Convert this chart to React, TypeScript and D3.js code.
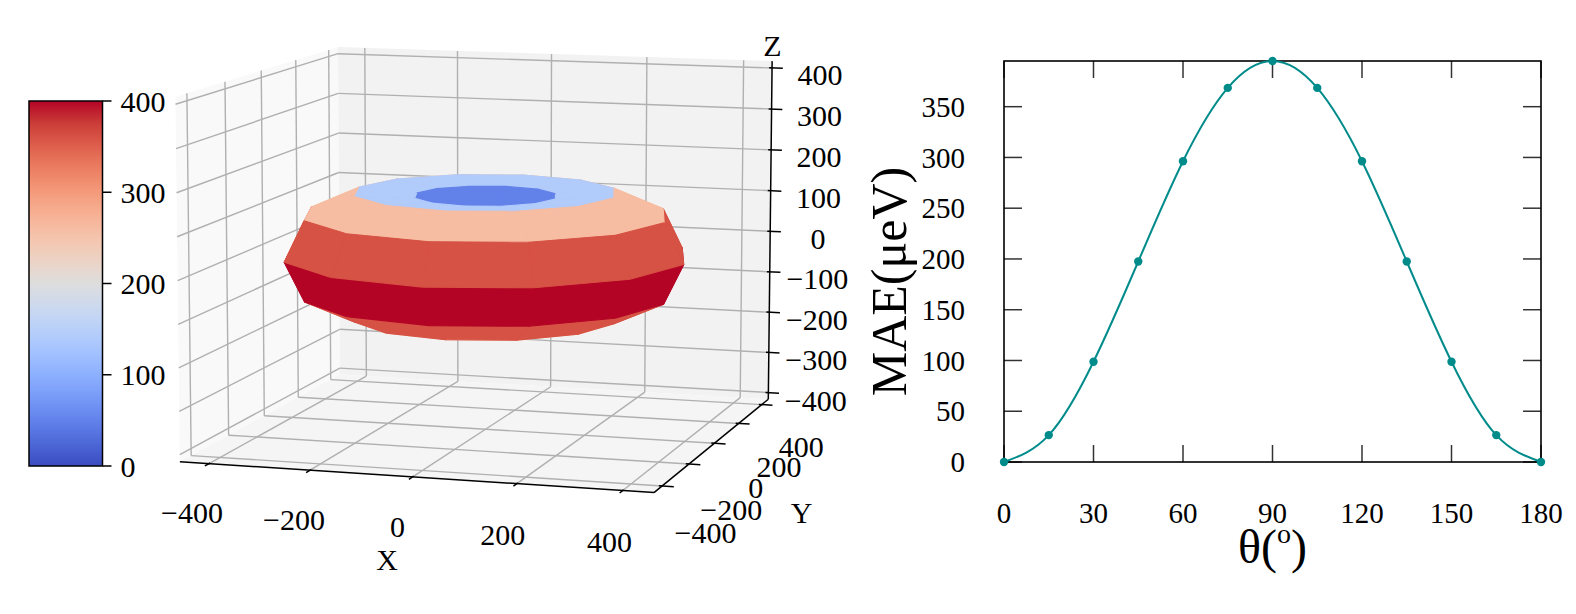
import * as d3 from 'd3';

// MAE as a function of the polar angle (uniaxial, so the same for every azimuth)
const thetaDeg = [0, 15, 30, 45, 60, 75, 90, 105, 120, 135, 150, 165, 180];
const maeValues = [0, 26.5, 98.8, 197.5, 296.3, 368.5, 395, 368.5, 296.3, 197.5, 98.8, 26.5, 0];
// azimuth grid of the 3D surface
const phiDeg = [0, 30, 60, 90, 120, 150, 180, 210, 240, 270, 300, 330, 360];

const thetaTicks = [0, 30, 60, 90, 120, 150, 180];
const maeTicks = [0, 50, 100, 150, 200, 250, 300, 350];
const xyTicks3d = [-400, -200, 0, 200, 400];
const zTicks3d = [-400, -300, -200, -100, 0, 100, 200, 300, 400];
const cbarTicks = [0, 100, 200, 300, 400];

// matplotlib coolwarm
const coolwarmStops = [
  '#3b4cc0', '#4d68d7', '#6282ea', '#779af7', '#8db0fe', '#a3c2ff', '#b8d0f9', '#ccd9ee', '#dddddd',
  '#ecd3c5', '#f5c4ad', '#f7b194', '#f49a7b', '#ec7f63', '#de604d', '#cb3e38', '#b40426',
];
const coolwarm = d3.piecewise(d3.interpolateRgb, coolwarmStops);

const FONT = "'Liberation Serif', 'Times New Roman', serif";
const fmt = (n: number) => (n < 0 ? '\u2212' + Math.abs(n) : String(n));

// ---------- 3D projection (matplotlib style) ----------
const AZIM = (-73 * Math.PI) / 180;
const ELEV = (9 * Math.PI) / 180;
const DIST = 10;
const X_LIM: [number, number] = [-440, 440];
const Z_LIM: [number, number] = [-400, 400];
const BOX = [4, 4, 3].map((a) => (a * 1.8294640721620434) / Math.sqrt(41));
const VIEW = { cx: 485.5, cy: 255, scale: 398 };

const nx = d3.scaleLinear().domain(X_LIM).range([-BOX[0] / 2, BOX[0] / 2]);
const nz = d3.scaleLinear().domain(Z_LIM).range([-BOX[2] / 2, BOX[2] / 2]);

const w = [Math.cos(ELEV) * Math.cos(AZIM), Math.cos(ELEV) * Math.sin(AZIM), Math.sin(ELEV)];
const u = [-Math.sin(AZIM), Math.cos(AZIM), 0];
const v = [w[1] * u[2] - w[2] * u[1], w[2] * u[0] - w[0] * u[2], w[0] * u[1] - w[1] * u[0]];

const proj = (x: number, y: number, z: number) => {
  const P = [nx(x), nx(y), nz(z)];
  const sx = P[0] * u[0] + P[1] * u[1] + P[2] * u[2];
  const sy = P[0] * v[0] + P[1] * v[1] + P[2] * v[2];
  const dw = P[0] * w[0] + P[1] * w[1] + P[2] * w[2];
  const k = DIST / (DIST - dw);
  return [VIEW.cx + VIEW.scale * sx * k, VIEW.cy - VIEW.scale * sy * k, -DIST / (DIST - dw)];
};

// panes sit a little outside the limits (1/48 of the range)
const XB = X_LIM[1] + (X_LIM[1] - X_LIM[0]) / 48;
const ZB = Z_LIM[1] + (Z_LIM[1] - Z_LIM[0]) / 48;

type P3 = [number, number, number];
const poly = (pts: P3[]) =>
  'M' + pts.map((p) => proj(...p).slice(0, 2).map((c) => c.toFixed(2)).join(',')).join('L') + 'Z';
const seg = (a: P3, b: P3) => {
  const p = proj(...a);
  const q = proj(...b);
  return { x1: p[0], y1: p[1], x2: q[0], y2: q[1] };
};

const Surface3D = () => {
  const rad = Math.PI / 180;
  const grid = thetaDeg.map((t, i) =>
    phiDeg.map((f) => {
      const r = maeValues[i];
      const rho = r * Math.sin(t * rad);
      return { x: rho * Math.cos(f * rad), y: rho * Math.sin(f * rad), z: r * Math.cos(t * rad), rho };
    })
  );
  const rhoMax = d3.max(grid.flat(), (d) => d.rho) || 1;
  const colorNorm = d3.scaleLinear().domain([0, rhoMax]).range([0, 1]).clamp(true);

  const faces: { d: string; depth: number; color: string }[] = [];
  for (let i = 0; i < thetaDeg.length - 1; i++) {
    for (let j = 0; j < phiDeg.length - 1; j++) {
      const corners = [grid[i][j], grid[i + 1][j], grid[i + 1][j + 1], grid[i][j + 1]];
      const pts = corners.map((c) => [c.x, c.y, c.z] as P3);
      const depth = d3.mean(pts, (p) => proj(...p)[2]) || 0;
      faces.push({ d: poly(pts), depth, color: coolwarm(colorNorm(grid[i][j].rho)) });
    }
  }
  faces.sort((a, b) => b.depth - a.depth);

  const gridColor = '#b0b0b0';
  const tin = 6;
  const tout = 22;

  return (
    <g>
      {/* panes */}
      <path d={poly([[-XB, -XB, -ZB], [-XB, XB, -ZB], [-XB, XB, ZB], [-XB, -XB, ZB]])} fill="#f9f9f9" />
      <path d={poly([[-XB, XB, -ZB], [XB, XB, -ZB], [XB, XB, ZB], [-XB, XB, ZB]])} fill="#f2f2f2" />
      <path d={poly([[-XB, -XB, -ZB], [XB, -XB, -ZB], [XB, XB, -ZB], [-XB, XB, -ZB]])} fill="#f5f5f5" />

      {/* grid lines */}
      <g stroke={gridColor} strokeWidth={1.4}>
        {xyTicks3d.map((t) => (
          <g key={'gx' + t}>
            <line {...seg([t, XB, -ZB], [t, XB, ZB])} />
            <line {...seg([t, -XB, -ZB], [t, XB, -ZB])} />
            <line {...seg([-XB, t, -ZB], [-XB, t, ZB])} />
            <line {...seg([-XB, t, -ZB], [XB, t, -ZB])} />
          </g>
        ))}
        {zTicks3d.map((t) => (
          <g key={'gz' + t}>
            <line {...seg([-XB, XB, t], [XB, XB, t])} />
            <line {...seg([-XB, -XB, t], [-XB, XB, t])} />
          </g>
        ))}
      </g>

      {/* axis lines and ticks */}
      <g stroke="#000" strokeWidth={1.5}>
        <line {...seg([-XB, -XB, -ZB], [XB, -XB, -ZB])} />
        <line {...seg([XB, -XB, -ZB], [XB, XB, -ZB])} />
        <line {...seg([XB, XB, -ZB], [XB, XB, ZB])} />
        {xyTicks3d.map((t) => (
          <g key={'tk' + t}>
            <line {...seg([t, -XB + tin, -ZB], [t, -XB - tout, -ZB])} />
            <line {...seg([XB - tin, t, -ZB], [XB + tout, t, -ZB])} />
          </g>
        ))}
        {zTicks3d.map((t) => (
          <line key={'tz' + t} {...seg([XB - tin, XB, t], [XB + tout, XB, t])} />
        ))}
      </g>

      {/* tick labels */}
      <g fontFamily={FONT} fontSize={30} textAnchor="middle" fill="#000">
        {xyTicks3d.map((t) => {
          const p = proj(t, -XB - 90, -ZB - 90);
          return (
            <text key={'lx' + t} x={p[0]} y={p[1]} dy="0.35em">
              {fmt(t)}
            </text>
          );
        })}
        {xyTicks3d.map((t) => {
          const p = proj(XB + 82, t, -ZB - 98);
          return (
            <text key={'ly' + t} x={p[0]} y={p[1]} dy="0.35em">
              {fmt(t)}
            </text>
          );
        })}
        {zTicks3d.map((t) => {
          const p = proj(XB + 98, XB, t - 12);
          return (
            <text key={'lz' + t} x={p[0]} y={p[1]} dy="0.35em">
              {fmt(t)}
            </text>
          );
        })}
        {(() => {
          const px = proj(0, -XB - 150, -ZB - 148);
          const py = proj(XB + 172, 0, -ZB - 150);
          const pz = proj(XB, XB, ZB + 38);
          return (
            <>
              <text x={px[0]} y={px[1]} dy="0.35em">X</text>
              <text x={py[0]} y={py[1]} dy="0.35em">Y</text>
              <text x={pz[0]} y={pz[1]} dy="0.35em">Z</text>
            </>
          );
        })()}
      </g>

      {/* surface */}
      <g>
        {faces.map((f, k) => (
          <path key={k} d={f.d} fill={f.color} stroke={f.color} strokeWidth={1.1} strokeLinejoin="round" />
        ))}
      </g>
    </g>
  );
};

// ---------- colour bar ----------
const CBAR = { left: 29, right: 102.5, top: 101, bottom: 466 };

const ColorBar = () => {
  const y = d3.scaleLinear().domain([0, 400]).range([CBAR.bottom, CBAR.top]);
  const stops = d3.range(0, 1.0001, 1 / 32);
  return (
    <g>
      <defs>
        <linearGradient id="cw" x1="0" y1="1" x2="0" y2="0">
          {stops.map((s) => (
            <stop key={s} offset={s} stopColor={coolwarm(s)} />
          ))}
        </linearGradient>
      </defs>
      <rect
        x={CBAR.left}
        y={CBAR.top}
        width={CBAR.right - CBAR.left}
        height={CBAR.bottom - CBAR.top}
        fill="url(#cw)"
        stroke="#000"
        strokeWidth={1.5}
      />
      {cbarTicks.map((t) => (
        <g key={t}>
          <line x1={CBAR.right} x2={CBAR.right + 9} y1={y(t)} y2={y(t)} stroke="#000" strokeWidth={1.5} />
          <text x={CBAR.right + 18} y={y(t)} dy="0.35em" fontFamily={FONT} fontSize={30}>
            {t}
          </text>
        </g>
      ))}
    </g>
  );
};

// ---------- MAE vs theta ----------
const PLOT = { left: 1004, right: 1541, top: 61, bottom: 462 };

const MaeChart = () => {
  const xScale = d3.scaleLinear().domain([0, 180]).range([PLOT.left, PLOT.right]);
  const yScale = d3.scaleLinear().domain([0, 395]).range([PLOT.bottom, PLOT.top]);
  const pts = thetaDeg.map((t, i) => [t, maeValues[i]] as [number, number]);
  const linePath =
    d3
      .line<[number, number]>()
      .x((d) => xScale(d[0]))
      .y((d) => yScale(d[1]))
      .curve(d3.curveNatural)(pts) || '';
  const tickColor = '#333';
  return (
    <g>
      {thetaTicks.map((t) => (
        <g key={'xt' + t}>
          <line x1={xScale(t)} x2={xScale(t)} y1={PLOT.bottom} y2={PLOT.bottom - 17} stroke={tickColor} strokeWidth={1.5} />
          <line x1={xScale(t)} x2={xScale(t)} y1={PLOT.top} y2={PLOT.top + 17} stroke={tickColor} strokeWidth={1.5} />
          <text x={xScale(t)} y={513} dy="0.35em" textAnchor="middle" fontFamily={FONT} fontSize={29}>
            {t}
          </text>
        </g>
      ))}
      {maeTicks.map((t) => (
        <g key={'yt' + t}>
          <line x1={PLOT.left} x2={PLOT.left + 18} y1={yScale(t)} y2={yScale(t)} stroke={tickColor} strokeWidth={1.5} />
          <line x1={PLOT.right} x2={PLOT.right - 18} y1={yScale(t)} y2={yScale(t)} stroke={tickColor} strokeWidth={1.5} />
          <text x={PLOT.left - 39} y={yScale(t)} dy="0.35em" textAnchor="end" fontFamily={FONT} fontSize={29}>
            {t}
          </text>
        </g>
      ))}
      <rect
        x={PLOT.left}
        y={PLOT.top}
        width={PLOT.right - PLOT.left}
        height={PLOT.bottom - PLOT.top}
        fill="none"
        stroke="#000"
        strokeWidth={1.6}
      />
      <path d={linePath} fill="none" stroke="#008b8b" strokeWidth={2} />
      {pts.map((d, i) => (
        <circle key={i} cx={xScale(d[0])} cy={yScale(d[1])} r={4.2} fill="#008b8b" />
      ))}
      <text
        transform={`translate(906, ${(PLOT.top + PLOT.bottom) / 2 + 20}) rotate(-90)`}
        textAnchor="middle"
        fontFamily={FONT}
        fontSize={50}
      >
        MAE(μeV)
      </text>
      <text x={(PLOT.left + PLOT.right) / 2} y={563} textAnchor="middle" fontFamily={FONT} fontSize={48}>
        θ(
        <tspan fontSize={28} dy={-20}>
          o
        </tspan>
        <tspan dy={20}>)</tspan>
      </text>
    </g>
  );
};

export default function App() {
  return (
    <div style={{ position: 'absolute', left: 0, top: 0 }}>
      <svg width={1576} height={614} viewBox="0 0 1576 614" style={{ display: 'block', background: '#fff' }}>
        <Surface3D />
        <ColorBar />
        <MaeChart />
      </svg>
    </div>
  );
}
